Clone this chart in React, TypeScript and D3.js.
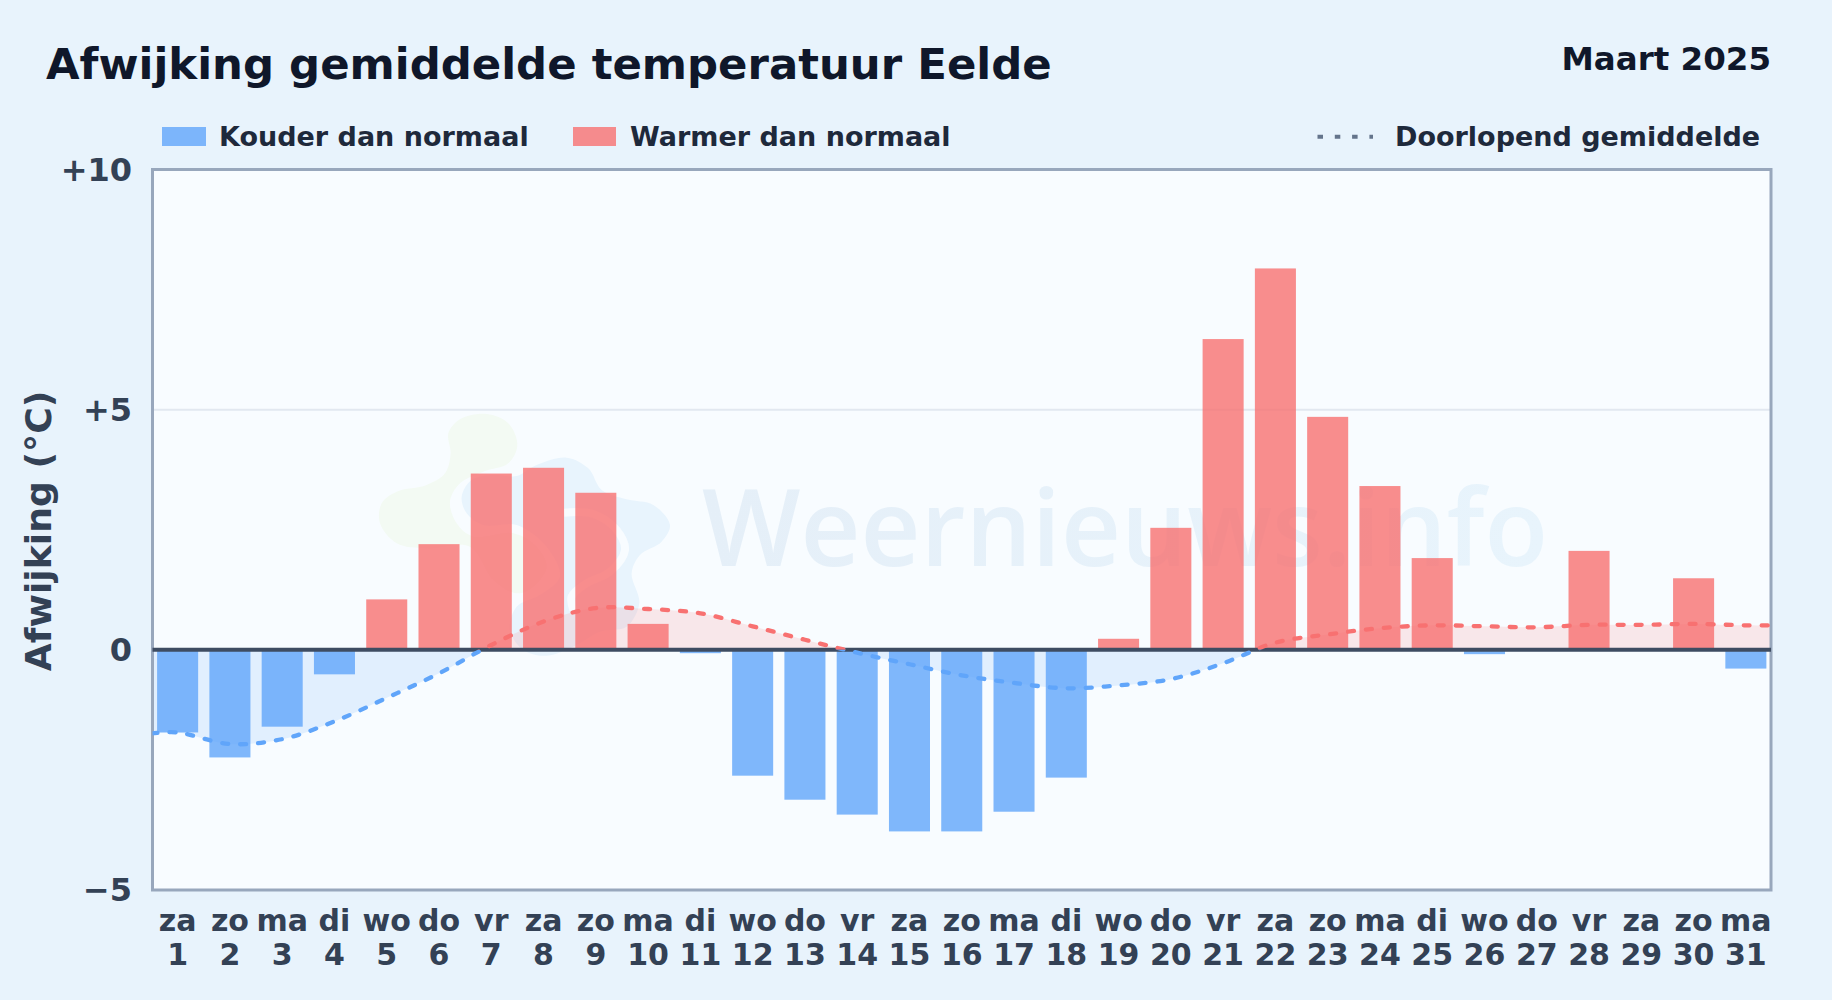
import { useEffect, useRef } from "react";
import * as d3 from "d3";

const WIDTH = 1832;
const HEIGHT = 1000;
const PAD = { left: 152.5, right: 61, top: 169.5, bottom: 110 };
const FONT = "'DejaVu Sans', sans-serif";

const days = d3.range(1, 32);
const weekdays = ["za", "zo", "ma", "di", "wo", "do", "vr", "za", "zo", "ma", "di", "wo", "do", "vr", "za", "zo", "ma", "di", "wo", "do", "vr", "za", "zo", "ma", "di", "wo", "do", "vr", "za", "zo", "ma"];
const anomalies = [-1.72, -2.24, -1.6, -0.51, 1.05, 2.2, 3.67, 3.79, 3.27, 0.54, -0.07, -2.62, -3.12, -3.43, -3.78, -3.78, -3.37, -2.66, 0.23, 2.54, 6.47, 7.94, 4.85, 3.41, 1.91, -0.09, 0, 2.06, 0, 1.49, -0.39];
const rolling = [-1.72, -1.96, -1.86, -1.49, -1.0, -0.49, 0.1, 0.59, 0.87, 0.85, 0.76, 0.49, 0.21, -0.06, -0.3, -0.53, -0.69, -0.8, -0.74, -0.61, -0.28, 0.15, 0.32, 0.45, 0.51, 0.49, 0.47, 0.52, 0.52, 0.54, 0.51];
const rollingStart = -1.74;
const rollingEnd = 0.51;
const yTicks = [10, 5, 0, -5];
const yTickLabels = ["+10", "+5", "0", "−5"];

const COLD = "#60a5fa";
const WARM = "#f87171";

// logo behind the plot, in 3x pixels
const logoGreen: [number, number][] = [[265, 130], [300, 88], [380, 72], [445, 100], [472, 165], [445, 220], [370, 245], [300, 280], [270, 335], [290, 400], [340, 440], [460, 430], [530, 470], [560, 530], [520, 590], [470, 610], [400, 570], [330, 470], [200, 475], [110, 460], [60, 400], [65, 340], [110, 305], [200, 285], [255, 250], [272, 190]];
const logoBlue: [number, number][] = [[305, 320], [335, 270], [400, 255], [470, 258], [530, 225], [620, 203], [685, 235], [725, 300], [800, 328], [880, 345], [930, 405], [905, 455], [840, 495], [815, 550], [838, 640], [800, 710], [720, 725], [650, 765], [560, 797], [490, 780], [450, 720], [470, 650], [540, 615], [600, 560], [560, 470], [470, 405], [370, 405], [320, 370]];
const logoGap: [number, number][] = [[612, 368], [700, 372], [770, 420], [795, 480], [750, 545], [680, 580], [635, 620], [640, 660]];

export default function App() {
  const svgRef = useRef<SVGSVGElement | null>(null);

  useEffect(() => {
    const svgEl = svgRef.current;
    if (!svgEl) return;

    const plotRight = WIDTH - PAD.right;
    const plotBottom = HEIGHT - PAD.bottom;
    const x = d3.scaleBand<number>().domain(days).range([151.5, 1772]).paddingInner(0.215).paddingOuter(0.1075);
    const xc = (d: number) => (x(d) ?? 0) + x.bandwidth() / 2;
    const xl = d3.scaleLinear().domain([1, 31]).range([xc(1), xc(31)]);
    const y = d3.scaleLinear().domain([-5, 10]).range([plotBottom, PAD.top]);

    const svg = d3.select(svgEl);
    svg.selectAll("*").remove();
    svg.attr("font-family", FONT).attr("font-weight", 700);

    const defs = svg.append("defs");
    const wm = defs.append("linearGradient").attr("id", "wm").attr("x1", 0).attr("x2", 1).attr("y1", 0).attr("y2", 0);
    wm.append("stop").attr("offset", 0).attr("stop-color", "#e5eff8");
    wm.append("stop").attr("offset", 1).attr("stop-color", "#e8f4fc");
    const addClip = (id: string, y0: number, y1: number) =>
      defs.append("clipPath").attr("id", id).append("rect").attr("x", PAD.left).attr("y", y0).attr("width", plotRight - PAD.left).attr("height", y1 - y0);
    addClip("clip-warm", PAD.top, y(0));
    addClip("clip-cold", y(0), plotBottom);

    svg.append("rect").attr("width", WIDTH).attr("height", HEIGHT).attr("fill", "#e8f3fc");
    svg.append("rect").attr("x", PAD.left).attr("y", PAD.top).attr("width", plotRight - PAD.left).attr("height", plotBottom - PAD.top).attr("fill", "#f8fcff");

    // grid
    svg.append("line").attr("x1", PAD.left).attr("x2", plotRight).attr("y1", y(5)).attr("y2", y(5)).attr("stroke", "#e2e8f0").attr("stroke-width", 2);

    // watermark
    const gLogo = svg.append("g").attr("transform", "translate(360, 390) scale(0.3333)");
    const blob = d3.line().curve(d3.curveCatmullRomClosed);
    gLogo.append("path").attr("d", blob(logoGreen)).attr("fill", "#f3faf3");
    gLogo.append("path").attr("d", blob(logoBlue)).attr("fill", "#e8f4fd");
    gLogo.append("path").attr("d", d3.line().curve(d3.curveCatmullRom)(logoGap)).attr("fill", "none").attr("stroke", "#f8fcff").attr("stroke-width", 24);
    svg
      .append("text")
      .attr("x", 702)
      .attr("y", 566)
      .attr("font-family", "'Open Sans', sans-serif")
      .attr("font-weight", 600)
      .attr("font-size", 106)
      .attr("textLength", 846)
      .attr("lengthAdjust", "spacingAndGlyphs")
      .attr("fill", "url(#wm)")
      .text("Weernieuws.info");

    // rolling mean area
    const rollingPoints: [number, number][] = [[0.5, rollingStart], ...rolling.map((v, i): [number, number] => [days[i], v]), [31.5, rollingEnd]];
    const curve = d3.curveCatmullRom;
    const area = d3.area<[number, number]>().curve(curve).x((p) => xl(p[0])).y0(y(0)).y1((p) => y(p[1]));
    const line = d3.line<[number, number]>().curve(curve).x((p) => xl(p[0])).y((p) => y(p[1]));
    const signs = [
      { clip: "clip-warm", color: WARM },
      { clip: "clip-cold", color: COLD },
    ];
    svg
      .append("g")
      .selectAll("path")
      .data(signs)
      .join("path")
      .attr("clip-path", (s) => `url(#${s.clip})`)
      .attr("d", area(rollingPoints))
      .attr("fill", (s) => s.color)
      .attr("fill-opacity", 0.15);

    // bars
    svg
      .append("g")
      .selectAll("rect")
      .data(anomalies)
      .join("rect")
      .attr("x", (_, i) => x(days[i]) ?? 0)
      .attr("width", x.bandwidth())
      .attr("y", (v) => (v > 0 ? y(v) : y(0)))
      .attr("height", (v) => Math.abs(y(v) - y(0)))
      .attr("fill", (v) => (v > 0 ? WARM : COLD))
      .attr("fill-opacity", 0.8);

    // frame and zero line
    svg.append("rect").attr("x", PAD.left).attr("y", PAD.top).attr("width", plotRight - PAD.left).attr("height", plotBottom - PAD.top).attr("fill", "none").attr("stroke", "#98a7bc").attr("stroke-width", 3);
    svg.append("line").attr("x1", PAD.left).attr("x2", plotRight).attr("y1", y(0)).attr("y2", y(0)).attr("stroke", "#3e4c62").attr("stroke-width", 4);

    // rolling mean line
    svg
      .append("g")
      .selectAll("path")
      .data(signs)
      .join("path")
      .attr("clip-path", (s) => `url(#${s.clip})`)
      .attr("d", line(rollingPoints))
      .attr("fill", "none")
      .attr("stroke", (s) => s.color)
      .attr("stroke-width", 4.3)
      .attr("stroke-linecap", "round")
      .attr("stroke-dasharray", "6 12");

    // y axis
    svg
      .append("g")
      .selectAll("text")
      .data(yTicks)
      .join("text")
      .attr("x", 132)
      .attr("y", (d) => y(d) + 11)
      .attr("text-anchor", "end")
      .attr("font-size", 32)
      .attr("fill", "#334155")
      .text((_, i) => yTickLabels[i]);
    svg
      .append("text")
      .attr("transform", "translate(51, 531) rotate(-90)")
      .attr("text-anchor", "middle")
      .attr("font-size", 36.2)
      .attr("fill", "#334155")
      .text("Afwijking (°C)");

    // x axis
    const xTicks = svg.append("g").selectAll("g").data(days).join("g").attr("transform", (d) => `translate(${xc(d)}, 0)`).attr("text-anchor", "middle").attr("font-size", 30).attr("fill", "#334155");
    xTicks.append("text").attr("y", 931).text((_, i) => weekdays[i]);
    xTicks.append("text").attr("y", 965).text((d) => d);

    // titles
    svg.append("text").attr("x", 46).attr("y", 79).attr("font-size", 43.4).attr("fill", "#0f172a").text("Afwijking gemiddelde temperatuur Eelde");
    svg.append("text").attr("x", 1771).attr("y", 70).attr("text-anchor", "end").attr("font-size", 32.5).attr("fill", "#0f172a").text("Maart 2025");

    // legend
    const gLegend = svg.append("g").attr("font-size", 27).attr("fill", "#1e293b");
    gLegend.append("rect").attr("x", 162).attr("y", 127).attr("width", 44).attr("height", 19).attr("fill", COLD).attr("fill-opacity", 0.8);
    gLegend.append("text").attr("x", 219).attr("y", 146).text("Kouder dan normaal");
    gLegend.append("rect").attr("x", 573).attr("y", 127).attr("width", 43).attr("height", 19).attr("fill", WARM).attr("fill-opacity", 0.8);
    gLegend.append("text").attr("x", 630).attr("y", 146).text("Warmer dan normaal");
    gLegend.append("line").attr("x1", 1317.5).attr("x2", 1373).attr("y1", 136.7).attr("y2", 136.7).attr("stroke", "#64748b").attr("stroke-width", 4).attr("stroke-dasharray", "5.5 11.8");
    gLegend.append("text").attr("x", 1395).attr("y", 146).text("Doorlopend gemiddelde");
  }, []);

  return <svg ref={svgRef} width={WIDTH} height={HEIGHT} viewBox={`0 0 ${WIDTH} ${HEIGHT}`} style={{ position: "fixed", left: 0, top: 0, display: "block" }} role="img" aria-label="Afwijking gemiddelde temperatuur Eelde" />;
}
